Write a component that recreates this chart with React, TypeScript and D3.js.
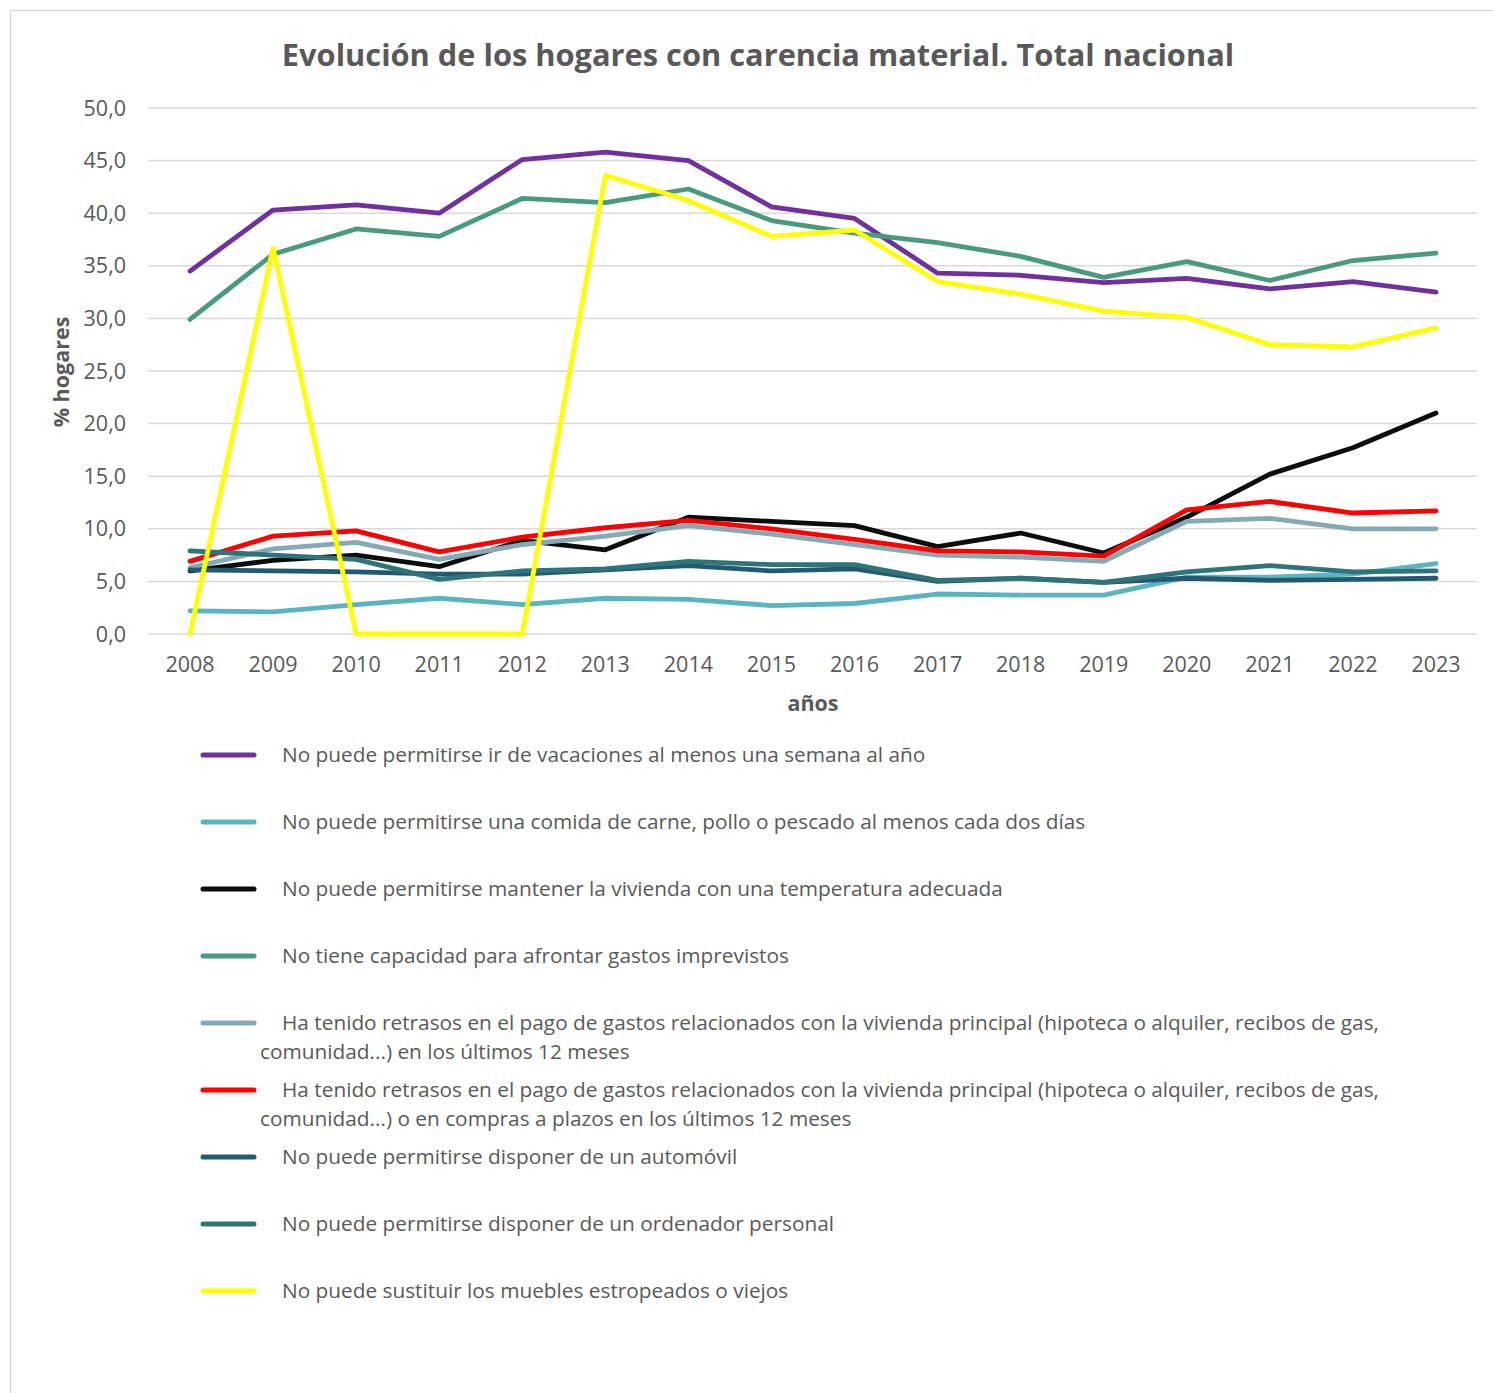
import React from "react";
import * as d3 from "d3";

const years = ["2008","2009","2010","2011","2012","2013","2014","2015","2016","2017","2018","2019","2020","2021","2022","2023"];
const yTicks = [0, 5, 10, 15, 20, 25, 30, 35, 40, 45, 50];

const vacaciones = [34.5,40.3,40.8,40.0,45.1,45.8,45.0,40.6,39.5,34.3,34.1,33.4,33.8,32.8,33.5,32.5];
const comida = [2.2,2.1,2.8,3.4,2.8,3.4,3.3,2.7,2.9,3.8,3.7,3.7,5.4,5.4,5.7,6.7];
const temperatura = [6.0,7.0,7.5,6.4,8.9,8.0,11.1,10.7,10.3,8.3,9.6,7.7,11.1,15.2,17.7,21.0];
const imprevistos = [29.9,36.1,38.5,37.8,41.4,41.0,42.3,39.3,38.1,37.2,35.9,33.9,35.4,33.6,35.5,36.2];
const retrasosVivienda = [6.3,8.1,8.7,7.1,8.5,9.3,10.3,9.5,8.5,7.5,7.3,6.9,10.7,11.0,10.0,10.0];
const retrasosCompras = [6.9,9.3,9.8,7.8,9.2,10.1,10.8,10.0,9.0,7.9,7.8,7.4,11.8,12.6,11.5,11.7];
const automovil = [6.1,6.0,5.9,5.7,5.7,6.1,6.5,6.0,6.2,5.0,5.3,4.9,5.3,5.1,5.2,5.3];
const ordenador = [7.9,7.5,7.1,5.2,6.0,6.2,6.9,6.6,6.6,5.1,5.3,4.9,5.9,6.5,5.9,6.0];
const muebles = [0,36.7,0,0,0,43.6,41.2,37.8,38.4,33.5,32.3,30.7,30.1,27.5,27.3,29.1];

const seriesNames = [
  ["No puede permitirse ir de vacaciones al menos una semana al año"],
  ["No puede permitirse una comida de carne, pollo o pescado al menos cada dos días"],
  ["No puede permitirse mantener la vivienda con una temperatura adecuada"],
  ["No tiene capacidad para afrontar gastos imprevistos"],
  ["Ha tenido retrasos en el pago de gastos relacionados con la vivienda principal (hipoteca o alquiler, recibos de gas,", "comunidad...) en los últimos 12 meses"],
  ["Ha tenido retrasos en el pago de gastos relacionados con la vivienda principal (hipoteca o alquiler, recibos de gas,", "comunidad...) o en compras a plazos en los últimos 12 meses"],
  ["No puede permitirse disponer de un automóvil"],
  ["No puede permitirse disponer de un ordenador personal"],
  ["No puede sustituir los muebles estropeados o viejos"],
];
const seriesValues = [vacaciones, comida, temperatura, imprevistos, retrasosVivienda, retrasosCompras, automovil, ordenador, muebles];
const seriesColors = ["#7030a0", "#5bb5c0", "#0d0d0d", "#4a9a80", "#85aab5", "#ff0000", "#215a72", "#2f7478", "#ffff00"];

const W = 1493, H = 1393;
const FONT = "'Open Sans', 'Noto Sans', sans-serif";
const TXT = "#595959";

export default function App() {
  const x = d3.scalePoint<string>().domain(years).range([190, 1436]);
  const y = d3.scaleLinear().domain([0, 50]).range([634, 108]);
  const line = d3.line<number>().x((_, i) => x(years[i]) as number).y((d) => y(d));
  const fmt = (v: number) => v.toFixed(1).replace(".", ",");

  return (
    <svg width={W} height={H} style={{ position: "absolute", left: 0, top: 0, background: "#fff" }} fontFamily={FONT}>
      <rect x={0} y={0} width={W} height={H} fill="#fff" />
      <line x1={10.5} y1={10.5} x2={W} y2={10.5} stroke="#d9d9d9" strokeWidth={1.5} />
      <line x1={10.5} y1={10.5} x2={10.5} y2={H} stroke="#d9d9d9" strokeWidth={1.5} />

      <text x={758} y={66} textAnchor="middle" fontSize={30.8} fontWeight="bold" fill={TXT}>
        Evolución de los hogares con carencia material. Total nacional
      </text>

      {yTicks.map((t) => (
        <g key={t}>
          <line x1={148} x2={1477} y1={y(t)} y2={y(t)} stroke="#d9d9d9" strokeWidth={1.5} />
          <text x={126} y={y(t) + 7.5} textAnchor="end" fontSize={21.5} fill={TXT}>{fmt(t)}</text>
        </g>
      ))}
      {years.map((yr) => (
        <text key={yr} x={x(yr)} y={672} textAnchor="middle" fontSize={21.5} fill={TXT}>{yr}</text>
      ))}

      <text transform="translate(69,372) rotate(-90)" textAnchor="middle" fontSize={21.5} fontWeight="bold" fill={TXT}>% hogares</text>
      <text x={813} y={711} textAnchor="middle" fontSize={21.5} fontWeight="bold" fill={TXT}>años</text>

      {seriesValues.map((vals, i) => (
        <path key={i} d={line(vals) as string} fill="none" stroke={seriesColors[i]} strokeWidth={4.8} strokeLinejoin="round" strokeLinecap="round" />
      ))}

      {seriesNames.map((lines, i) => {
        const ly = 755 + i * 67;
        return (
          <g key={i}>
            <line x1={203} x2={254} y1={ly} y2={ly} stroke={seriesColors[i]} strokeWidth={5} strokeLinecap="round" />
            {lines.map((t, j) => (
              <text key={j} x={j === 0 ? 282 : 260} y={ly + 7 + j * 29} fontSize={20.8} fill={TXT}>{t}</text>
            ))}
          </g>
        );
      })}
    </svg>
  );
}
